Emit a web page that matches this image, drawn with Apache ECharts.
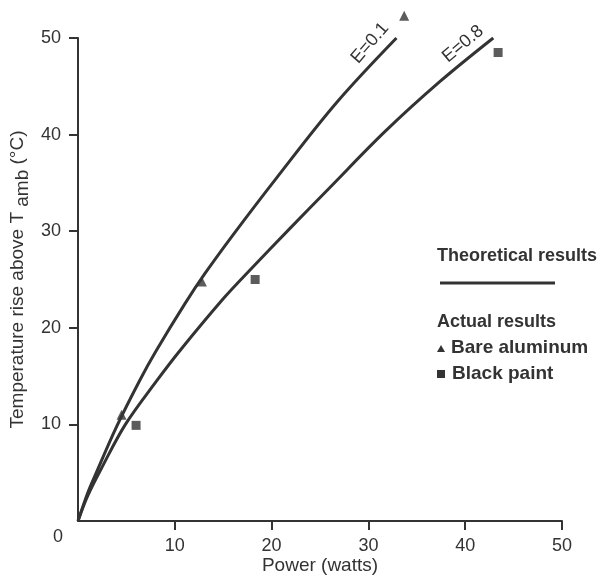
<!DOCTYPE html>
<html>
<head>
<meta charset="UTF-8">
<title>Temperature rise vs power</title>
<script src="https://cdn.jsdelivr.net/npm/echarts@6/dist/echarts.min.js"></script>
</head>
<body style="margin:0;background:#fff;">
<div id="container" style="width:601px;height:576px;"></div>
<script type="text/javascript">
// theoretical curves as [watts, degC]
var curveE01 = [[0,0],[1,2.9],[1.8,4.8],[4,9.8],[6.4,14.6],[8,17.5],[11.05,22.5],[13.1,25.6],[16,29.6],[20.5,35.5],[26.7,43.3],[32.9,50]];
var curveE08 = [[0,0],[1,2.6],[2.5,5.6],[4.9,10],[8.2,14.6],[10.5,17.6],[15,23],[17.5,25.7],[22,30.4],[26,34.5],[31.7,40.3],[37.4,45.5],[42.9,50]];
// measured points
var bareAluminum = [[4.5,11.0],[12.8,24.8],[33.7,52.3]];
var blackPaint = [[6.0,9.9],[18.3,25.0],[43.4,48.5]];
var xTicks = [0,10,20,30,40,50];
var yTicks = [0,10,20,30,40,50];

var ink = '#333';
var font = '"Liberation Sans", Arial, sans-serif';

var dom = document.getElementById('container');
var myChart = echarts.init(dom);

var axisCommon = {
    type: 'value',
    min: xTicks[0],
    max: xTicks[xTicks.length - 1],
    interval: 10,
    nameMoveOverlap: false,
    splitLine: {show: false},
    axisLine: {show: true, onZero: false, lineStyle: {color: ink, width: 2}},
    axisTick: {show: true, inside: false, length: 9, lineStyle: {color: ink, width: 2}},
    axisLabel: {
        showMinLabel: false,
        color: ink, fontSize: 18, fontFamily: font, margin: 16
    },
    nameTextStyle: {color: ink, fontSize: 19, fontFamily: font}
};

var option = {
    backgroundColor: '#fff',
    animation: false,
    grid: {left: 78, right: 39, top: 38, bottom: 55, outerBoundsMode: 'none'},
    xAxis: echarts.util.merge({
        name: 'Power (watts)',
        nameLocation: 'middle',
        nameGap: 35,
        axisLabel: {margin: 16}
    }, axisCommon),
    yAxis: echarts.util.merge({
        name: 'Temperature rise above T {sub|amb} (°C)',
        nameLocation: 'middle',
        nameGap: 46,
        nameRotate: 90,
        axisLabel: {margin: 17},
        nameTextStyle: {
            rich: {sub: {fontSize: 19, fontFamily: font, color: ink, padding: [9, 0, 0, 0]}}
        }
    }, axisCommon),
    series: [
        {
            name: 'E=0.1', type: 'line', data: curveE01,
            smooth: 0.35, showSymbol: false,
            lineStyle: {color: ink, width: 3}
        },
        {
            name: 'E=0.8', type: 'line', data: curveE08,
            smooth: 0.35, showSymbol: false,
            lineStyle: {color: ink, width: 3}
        },
        {
            name: 'Bare aluminum', type: 'scatter', data: bareAluminum,
            symbol: 'triangle', symbolSize: 10, clip: false,
            itemStyle: {color: ink}
        },
        {
            name: 'Black paint', type: 'scatter', data: blackPaint,
            symbol: 'rect', symbolSize: 9, clip: false,
            itemStyle: {color: ink}
        }
    ],
    graphic: [
        // shared origin label
        {type: 'text', x: 58, y: 537, style: {text: '0', fill: ink, fontSize: 18, fontFamily: font, align: 'center', verticalAlign: 'middle'}},
        // curve labels
        {type: 'text', x: 370, y: 43, rotation: 49 * Math.PI / 180,
            style: {text: 'E=0.1', fill: ink, fontSize: 18, fontFamily: font, align: 'center', verticalAlign: 'middle'}},
        {type: 'text', x: 463, y: 44, rotation: 40 * Math.PI / 180,
            style: {text: 'E=0.8', fill: ink, fontSize: 18, fontFamily: font, align: 'center', verticalAlign: 'middle'}},
        // key
        {type: 'text', x: 437, y: 256, style: {text: 'Theoretical results', fill: ink, fontSize: 18, fontWeight: 'bold', fontFamily: font, verticalAlign: 'middle'}},
        {type: 'line', shape: {x1: 440, y1: 283, x2: 555, y2: 283}, style: {stroke: ink, lineWidth: 3}},
        {type: 'text', x: 437, y: 322, style: {text: 'Actual results', fill: ink, fontSize: 18, fontWeight: 'bold', fontFamily: font, verticalAlign: 'middle'}},
        {type: 'polygon', shape: {points: [[437, 352], [445, 352], [441, 345]]}, style: {fill: ink}},
        {type: 'text', x: 451, y: 348, style: {text: 'Bare aluminum', fill: ink, fontSize: 19, fontWeight: 'bold', fontFamily: font, verticalAlign: 'middle'}},
        {type: 'rect', shape: {x: 437, y: 370, width: 8, height: 8}, style: {fill: ink}},
        {type: 'text', x: 452, y: 374, style: {text: 'Black paint', fill: ink, fontSize: 19, fontWeight: 'bold', fontFamily: font, verticalAlign: 'middle'}}
    ]
};

myChart.setOption(option);
</script>
</body>
</html>
